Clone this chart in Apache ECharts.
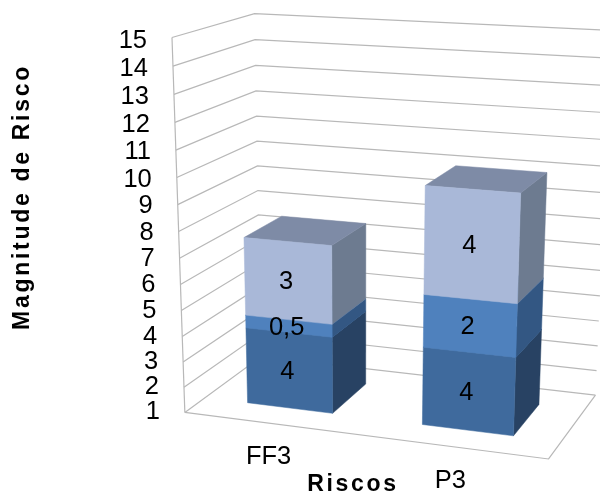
<!DOCTYPE html>
<html>
<head>
<meta charset="utf-8">
<style>html,body{margin:0;padding:0;background:#fff}#chart{width:600px;height:494px}</style>
<script src="https://cdn.jsdelivr.net/npm/echarts@6/dist/echarts.min.js"></script>
</head>
<body>
<div id="chart"></div>
<script>
// Chart data
const categories = ['FF3', 'P3'];
const lowerValues = [4, 4];
const middleValues = [0.5, 2];
const upperValues = [3, 4];
const valueTicks = [1, 2, 3, 4, 5, 6, 7, 8, 9, 10, 11, 12, 13, 14, 15];
const valueAxisName = 'Magnitude de Risco';
const categoryAxisName = 'Riscos';

// Scene layout: box corners [u, v, w] and where they land on the page
const boxCorners = [
  [0, 0, 0, 184, 411],
  [1, 0, 0, 549, 460],
  [1, 0, 1, 595, 394],
  [0, 0, 1, 262, 358],
  [0, 1, 0, 172.5, 38],
  [0, 1, 1, 254, 13],
  [1, 1, 1, 612, 30.5]
];
const barShare = 0.495;
const barDepth = [0.25, 0.75];
const textFont = '25.5px "Liberation Sans", Arial, sans-serif';
const titleFont = 'bold 23px "Liberation Sans", Arial, sans-serif';
const titleTracking = '2.7px';
const gridColor = '#b8b8b8';

const palette = {
  lower: { front: '#3f6a9d', side: '#284263', top: '#3f6a9d' },
  middle: { front: '#4f81bd', side: '#335783', top: '#4f81bd' },
  upper: { front: '#a9b8d8', side: '#6d7b90', top: '#7e8ba6' }
};

// Axis titles are tracked out; the canvas applies the spacing for those strings only.
const trackedTexts = [valueAxisName, categoryAxisName];
const baseFillText = CanvasRenderingContext2D.prototype.fillText;
CanvasRenderingContext2D.prototype.fillText = function (text, x, y, maxWidth) {
  const tracked = trackedTexts.includes(text);
  if (tracked) this.letterSpacing = titleTracking;
  if (maxWidth === undefined) baseFillText.call(this, text, x, y);
  else baseFillText.call(this, text, x, y, maxWidth);
  if (tracked) this.letterSpacing = '0px';
};

// Least-squares fit of a 3x4 perspective camera to the box corners.
function fitCamera(points) {
  const n = 11;
  const A = Array.from({ length: n }, () => new Array(n + 1).fill(0));
  const addRow = (row, rhs) => {
    for (let i = 0; i < n; i++) {
      for (let j = 0; j < n; j++) A[i][j] += row[i] * row[j];
      A[i][n] += row[i] * rhs;
    }
  };
  points.forEach(([X, Y, Z, x, y]) => {
    addRow([X, Y, Z, 1, 0, 0, 0, 0, -x * X, -x * Y, -x * Z], x);
    addRow([0, 0, 0, 0, X, Y, Z, 1, -y * X, -y * Y, -y * Z], y);
  });
  for (let c = 0; c < n; c++) {
    let pivot = c;
    for (let r = c + 1; r < n; r++) if (Math.abs(A[r][c]) > Math.abs(A[pivot][c])) pivot = r;
    [A[c], A[pivot]] = [A[pivot], A[c]];
    for (let r = 0; r < n; r++) {
      if (r === c) continue;
      const f = A[r][c] / A[c][c];
      for (let k = c; k <= n; k++) A[r][k] -= f * A[c][k];
    }
  }
  return A.map((row, i) => row[n] / row[i]);
}
const cam = fitCamera(boxCorners);
function project(u, v, w) {
  const d = cam[8] * u + cam[9] * v + cam[10] * w + 1;
  return [
    (cam[0] * u + cam[1] * v + cam[2] * w + cam[3]) / d,
    (cam[4] * u + cam[5] * v + cam[6] * w + cam[7]) / d
  ];
}

// Converts a data point on the flat cartesian grid into box coordinates.
function toBox(api, params, category, value) {
  const cs = params.coordSys;
  const p = api.coord([category, value]);
  return { u: (p[0] - cs.x) / cs.width, v: (cs.y + cs.height - p[1]) / cs.height };
}

function line(points) {
  return {
    type: 'polyline',
    silent: true,
    shape: { points },
    style: { stroke: gridColor, lineWidth: 1.2, fill: null }
  };
}

// Walls, floor, gridlines and value tick labels.
function renderFrame(params, api) {
  const tick = api.value(1);
  const { v } = toBox(api, params, 0, tick);
  const front = project(0, v, 0);
  const children = [line([front, project(0, v, 1), project(1, v, 1)])];
  if (params.dataIndex === 0) {
    children.push(line([project(0, 0, 0), project(0, 1, 0)]));
    children.push(line([project(0, 0, 0), project(1, 0, 0), project(1, 0, 1)]));
  }
  children.push({
    type: 'text',
    silent: true,
    style: {
      text: String(tick),
      x: front[0] - 25,
      y: front[1] - 0.5 + 4 * v,
      align: 'right',
      verticalAlign: 'middle',
      font: textFont,
      fill: '#000'
    }
  });
  return { type: 'group', children };
}

function barExtent(api, params, category) {
  const cs = params.coordSys;
  const half = (api.size([1, 0])[0] / cs.width) * barShare / 2;
  const { u } = toBox(api, params, category, valueTicks[0]);
  return [u - half, u + half];
}

function polygon(points, fill) {
  return {
    type: 'polygon',
    silent: true,
    shape: { points },
    style: { fill, stroke: fill, lineWidth: 0.5 }
  };
}

// One stacked segment: front, right side and top faces.
function renderSegment(colors) {
  return function (params, api) {
    const cat = api.value(0);
    const [u0, u1] = barExtent(api, params, cat);
    const v0 = toBox(api, params, cat, api.value(1)).v;
    const v1 = toBox(api, params, cat, api.value(2)).v;
    const [w0, w1] = barDepth;
    return {
      type: 'group',
      children: [
        polygon([project(u1, v0, w0), project(u1, v0, w1), project(u1, v1, w1), project(u1, v1, w0)], colors.side),
        polygon([project(u0, v1, w0), project(u1, v1, w0), project(u1, v1, w1), project(u0, v1, w1)], colors.top),
        polygon([project(u0, v0, w0), project(u1, v0, w0), project(u1, v1, w0), project(u0, v1, w0)], colors.front)
      ]
    };
  };
}

// Value labels centred on each front face.
function renderValueLabel(params, api) {
  const cat = api.value(0);
  const [u0, u1] = barExtent(api, params, cat);
  const v0 = toBox(api, params, cat, api.value(1)).v;
  const v1 = toBox(api, params, cat, api.value(2)).v;
  const p = project((u0 + u1) / 2, (v0 + v1) / 2, barDepth[0]);
  return {
    type: 'text',
    silent: true,
    style: {
      text: String(api.value(3)).replace('.', ','),
      x: p[0] - 2,
      y: p[1] + 1.5,
      align: 'center',
      verticalAlign: 'middle',
      font: textFont,
      fill: '#000'
    }
  };
}

// Category names placed under the front edge of the floor.
function renderCategoryLabel(params, api) {
  const cat = api.value(0);
  const { u } = toBox(api, params, cat, valueTicks[0]);
  const p = project(u, 0, 0);
  return {
    type: 'text',
    silent: true,
    style: {
      text: categories[cat],
      x: p[0] - 2.5,
      y: p[1] + 34,
      align: 'center',
      verticalAlign: 'middle',
      font: textFont,
      fill: '#000'
    }
  };
}

// Builds the stacked ranges; segments start no lower than the axis minimum.
const axisMin = valueTicks[0];
const axisMax = valueTicks[valueTicks.length - 1];
const stacks = [lowerValues, middleValues, upperValues];
const running = categories.map(() => 0);
const ranges = stacks.map((values) =>
  values.map((value, i) => {
    const start = running[i];
    running[i] += value;
    return [i, Math.max(start, axisMin), running[i], value];
  })
);
const segmentDims = { x: 0, y: 2 };

const chart = echarts.init(document.getElementById('chart'), null, { renderer: 'canvas' });
chart.setOption({
  animation: false,
  backgroundColor: '#fff',
  grid: { left: 0, right: 0, top: 0, bottom: 0 },
  xAxis: { type: 'category', data: categories, show: false },
  yAxis: { type: 'value', min: axisMin, max: axisMax, interval: 1, show: false },
  series: [
    {
      type: 'custom',
      name: 'frame',
      z: 1,
      renderItem: renderFrame,
      encode: { x: 0, y: 1 },
      data: valueTicks.map((t) => [0, t])
    },
    { type: 'custom', name: 'inferior', z: 2, renderItem: renderSegment(palette.lower), encode: segmentDims, data: ranges[0] },
    { type: 'custom', name: 'medio', z: 3, renderItem: renderSegment(palette.middle), encode: segmentDims, data: ranges[1] },
    { type: 'custom', name: 'superior', z: 4, renderItem: renderSegment(palette.upper), encode: segmentDims, data: ranges[2] },
    { type: 'custom', name: 'rotulos', z: 5, renderItem: renderValueLabel, encode: segmentDims, data: ranges.flat() },
    {
      type: 'custom',
      name: 'categorias',
      z: 5,
      renderItem: renderCategoryLabel,
      encode: { x: 0, y: 1 },
      data: categories.map((c, i) => [i, axisMin])
    }
  ],
  graphic: [
    {
      type: 'text',
      silent: true,
      x: 23,
      y: 197,
      rotation: Math.PI / 2,
      style: { text: valueAxisName, align: 'center', verticalAlign: 'middle', font: titleFont, fill: '#000' }
    },
    {
      type: 'text',
      silent: true,
      x: 353,
      y: 485,
      style: { text: categoryAxisName, align: 'center', verticalAlign: 'middle', font: titleFont, fill: '#000' }
    }
  ]
});
</script>
</body>
</html>
